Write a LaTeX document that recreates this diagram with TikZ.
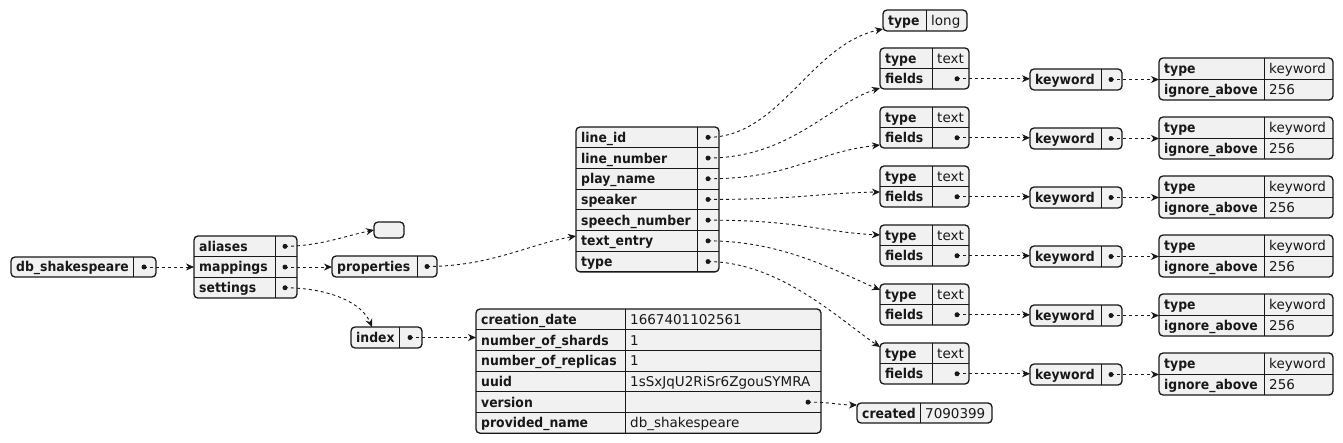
\documentclass[tikz,border=0pt]{standalone}
\usepackage{fontspec}
\setmainfont{DejaVu Sans}[BoldFeatures={FakeStretch=0.92}]
\usetikzlibrary{arrows.meta}
\definecolor{boxfill}{HTML}{F1F1F1}
\definecolor{ink}{HTML}{181818}
\tikzset{
  frame/.style={draw=ink, line width=1.3pt, fill=boxfill, rounded corners=4pt, inner sep=0pt, outer sep=0pt},
  grid/.style={draw=ink, line width=0.8pt},
  kt/.style={anchor=base west, inner sep=0pt, font=\fontsize{13.5}{16}\selectfont\bfseries, text=ink},
  vt/.style={anchor=base west, inner sep=0pt, font=\fontsize{13.5}{16}\selectfont, text=ink},
  dotmark/.style={fill=ink, circle, inner sep=0pt, minimum size=5pt},
  link/.style={draw=ink, line width=0.9pt, dash pattern=on 3pt off 3pt, -{Stealth[length=8pt,width=7pt,inset=2.5pt]}}
}
\newcommand\frm[5]{\node[frame, anchor=north west, minimum width={(#4-#2)*1pt}, minimum height={#5*1pt}] (#1) at (#2,#3) {};}
\begin{document}
\begin{tikzpicture}[x=1pt,y=-1pt]
\useasboundingbox (0,0) rectangle (1343,443);

% db_shakespeare
\frm{db}{11}{257}{156}{20}
\draw[grid] (133,257) -- (133,277);
\node[kt] (dbk) at (16,272) {db\_shakespeare};
\node[dotmark] (dbd) at (144,267) {};

% root object
\frm{root}{194}{236}{297}{62.1}
\draw[grid] (275,236) -- (275,298.1);
\draw[grid] (194,256.7) -- (297,256.7);
\draw[grid] (194,277.4) -- (297,277.4);
\node[kt] (ka) at (199,251.4) {aliases};
\node[kt] (km) at (199,272) {mappings};
\node[kt] (ks) at (199,292.8) {settings};
\node[dotmark] (da) at (285,246.35) {};
\node[dotmark] (dm) at (285,267.05) {};
\node[dotmark] (ds) at (285,287.75) {};

% empty aliases
\frm{empty}{374}{222}{404}{16}

% properties
\frm{prop}{332}{256}{437}{21}
\draw[grid] (417,256) -- (417,277);
\node[kt] (propk) at (337,271.5) {properties};
\node[dotmark] (propd) at (427,266.5) {};

% index
\frm{idx}{351}{327}{422}{21}
\draw[grid] (399,327) -- (399,348);
\node[kt] (idxk) at (356,342.5) {index};
\node[dotmark] (idxd) at (410,337.5) {};

% index table
\frm{itab}{476}{309}{821}{124.2}
\draw[grid] (625,309) -- (625,433.2);
\foreach \yy in {329.7,350.4,371.1,391.8,412.5} \draw[grid] (476,\yy) -- (821,\yy);
\node[kt] (i1) at (481,324.35) {creation\_date};
\node[vt] (i1v) at (630,324.35) {1667401102561};
\node[kt] (i2) at (481,345.05) {number\_of\_shards};
\node[vt] (i2v) at (630,345.05) {1};
\node[kt] (i3) at (481,365.75) {number\_of\_replicas};
\node[vt] (i3v) at (630,365.75) {1};
\node[kt] (i4) at (481,386.45) {uuid};
\node[vt] (i4v) at (630,386.45) {1sSxJqU2RiSr6ZgouSYMRA};
\node[kt] (i5) at (481,407.15) {version};
\node[dotmark] (verd) at (808,402.15) {};
\node[kt] (i6) at (481,427.85) {provided\_name};
\node[vt] (i6v) at (630,427.85) {db\_shakespeare};

% created
\frm{cr}{857}{403}{992}{20}
\draw[grid] (920,403) -- (920,423);
\node[kt] (crk) at (862,418) {created};
\node[vt] (crv) at (925,418) {7090399};

% properties table
\frm{ptab}{576}{127}{719}{144.9}
\draw[grid] (697,127) -- (697,271.9);
\foreach \yy in {147.7,168.4,189.1,209.8,230.5,251.2} \draw[grid] (576,\yy) -- (719,\yy);
\node[kt] (p1) at (581,142.35) {line\_id};
\node[kt] (p2) at (581,163.05) {line\_number};
\node[kt] (p3) at (581,183.75) {play\_name};
\node[kt] (p4) at (581,204.45) {speaker};
\node[kt] (p5) at (581,225.15) {speech\_number};
\node[kt] (p6) at (581,245.85) {text\_entry};
\node[kt] (p7) at (581,266.55) {type};
\node[dotmark] (pd1) at (708,137.35) {};
\node[dotmark] (pd2) at (708,158.05) {};
\node[dotmark] (pd3) at (708,178.75) {};
\node[dotmark] (pd4) at (708,199.45) {};
\node[dotmark] (pd5) at (708,220.15) {};
\node[dotmark] (pd6) at (708,240.85) {};
\node[dotmark] (pd7) at (708,261.55) {};

% type long
\frm{tl}{883}{10}{967}{21}
\draw[grid] (926,10) -- (926,31);
\node[kt] (tlk) at (888,25.5) {type};
\node[vt] (tlv) at (931,25.5) {long};

% repeated groups
\foreach \k in {0,...,5}{
  \pgfmathsetmacro\yt{48+59*\k}
  \pgfmathsetmacro\yk{69+59*\k}
  \pgfmathsetmacro\yq{58+59*\k}
  \frm{tf\k}{880}{\yt}{969}{41}
  \draw[grid] (932,\yt) -- (932,\yt+41);
  \draw[grid] (880,\yt+20.5) -- (969,\yt+20.5);
  \node[kt] (tft\k) at (885,\yt+15.25) {type};
  \node[vt] (tfv\k) at (937,\yt+15.25) {text};
  \node[kt] (tff\k) at (885,\yt+35.75) {fields};
  \node[dotmark] (tfd\k) at (957,\yt+30.75) {};
  \frm{kb\k}{1030}{\yk}{1122}{21}
  \draw[grid] (1101,\yk) -- (1101,\yk+21);
  \node[kt] (kbt\k) at (1035,\yk+15.5) {keyword};
  \node[dotmark] (kbd\k) at (1111,\yk+10.5) {};
  \frm{kq\k}{1159}{\yq}{1333}{42}
  \draw[grid] (1264,\yq) -- (1264,\yq+42);
  \draw[grid] (1159,\yq+21) -- (1333,\yq+21);
  \node[kt] (kqt\k) at (1164,\yq+15.5) {type};
  \node[vt] (kqv\k) at (1269,\yq+15.5) {keyword};
  \node[kt] (kqi\k) at (1164,\yq+36.5) {ignore\_above};
  \node[vt] (kqn\k) at (1269,\yq+36.5) {256};
  \draw[link] (tfd\k.center) -- (tfd\k.center -| kb\k.west);
  \draw[link] (kbd\k.center) -- (kbd\k.center -| kq\k.west);
}

% connector end points
\coordinate (inE) at (374,230);
\coordinate (inI) at (372,327);
\coordinate (inP) at (576,236);
\coordinate (inC) at (857,405);
\coordinate (in0) at (883,29);
\coordinate (in1) at (880,88);
\coordinate (in2) at (880,145);
\coordinate (in3) at (880,192);
\coordinate (in4) at (880,235);
\coordinate (in5) at (880,290);
\coordinate (in6) at (880,347);

% connectors
\draw[link] (dbd.center) -- (dbd.center -| root.west);
\draw[link] (da.center) .. controls (320,246) and (345,236) .. (inE);
\draw[link] (dm.center) -- (dm.center -| prop.west);
\draw[link] (ds.center) .. controls (330,288) and (362,303) .. (inI);
\draw[link] (propd.center) .. controls (490,266.5) and (530,244) .. (inP);
\draw[link] (idxd.center) -- (idxd.center -| itab.west);
\draw[link] (verd.center) .. controls (830,402) and (840,405) .. (inC);
\draw[link] (pd1.center) .. controls (780,137) and (810,45) .. (in0);
\draw[link] (pd2.center) .. controls (790,158) and (830,104) .. (in1);
\draw[link] (pd3.center) .. controls (790,179) and (815,152) .. (in2);
\draw[link] (pd4.center) .. controls (800,199.5) and (820,193) .. (in3);
\draw[link] (pd5.center) .. controls (800,220) and (820,232) .. (in4);
\draw[link] (pd6.center) .. controls (780,241) and (830,268) .. (in5);
\draw[link] (pd7.center) .. controls (780,262) and (840,320) .. (in6);
\end{tikzpicture}
\end{document}
